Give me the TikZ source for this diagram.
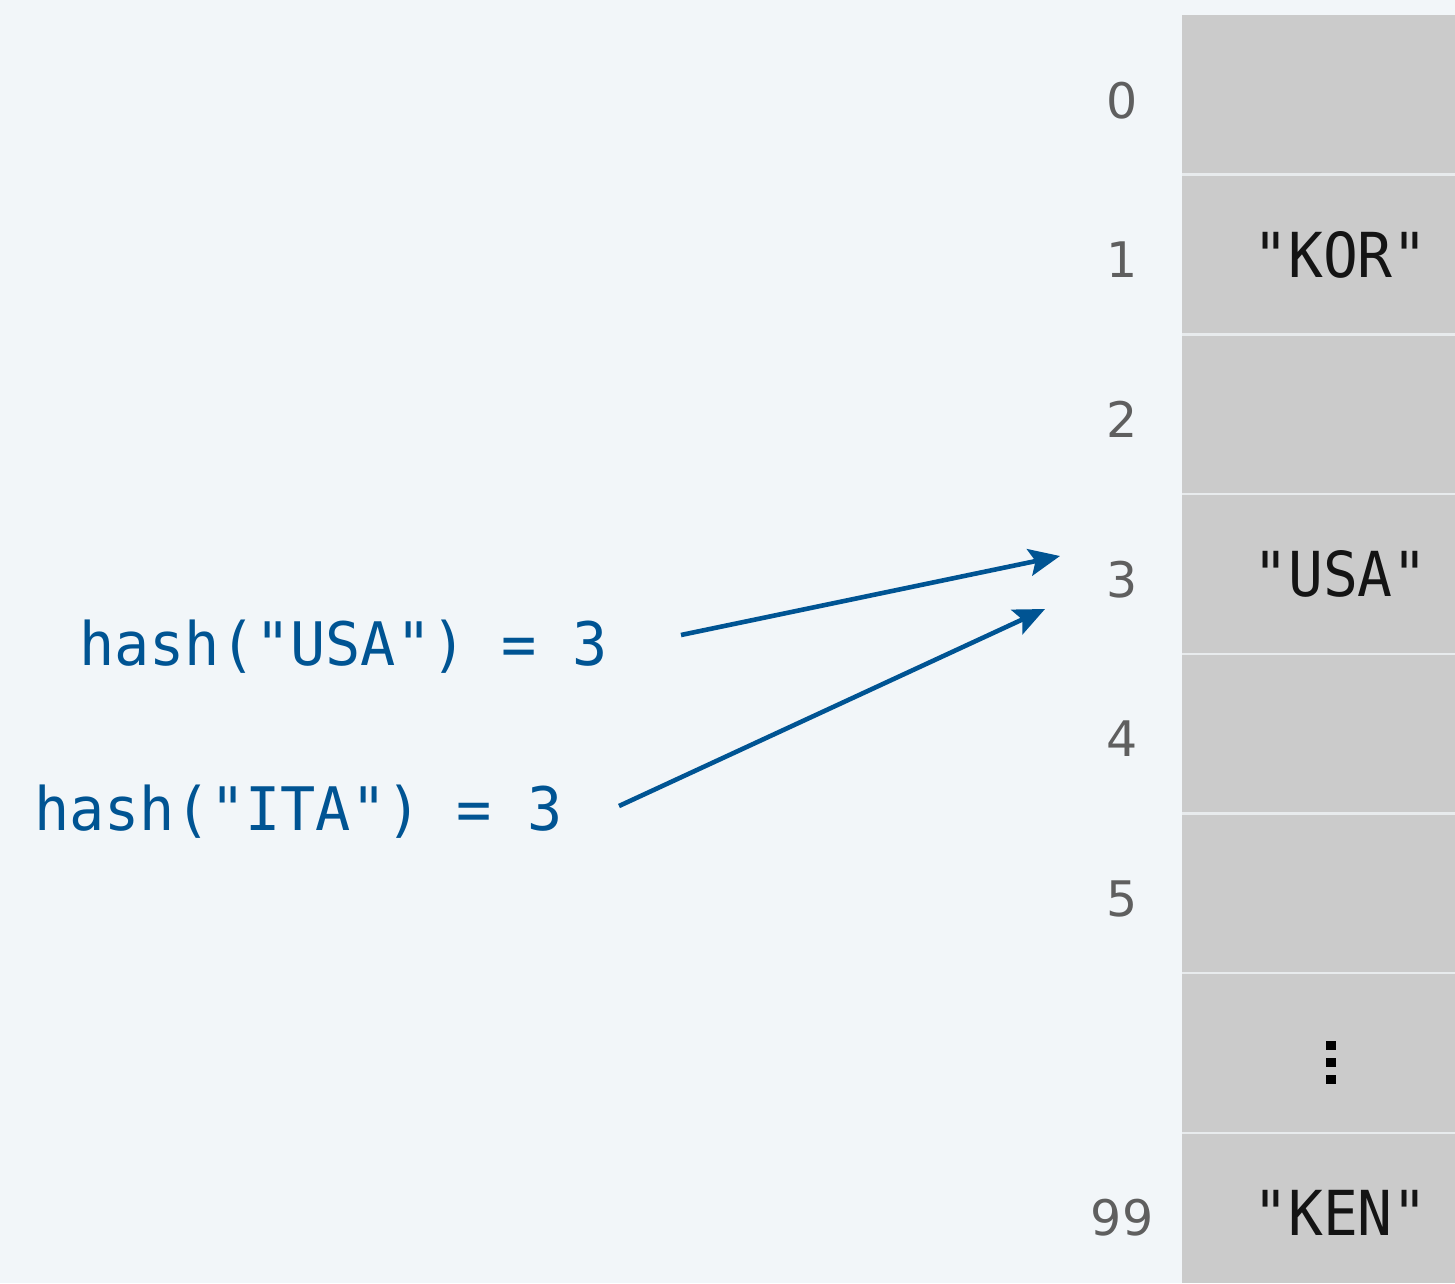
\documentclass[tikz,border=0pt]{standalone}
\usepackage{fontspec}
\setmainfont{DejaVu Sans}
\newfontfamily\cellfont[FakeStretch=0.935]{DejaVu Sans Mono}
\newfontfamily\codefont[FakeStretch=0.975]{DejaVu Sans Mono}
\usetikzlibrary{arrows.meta}
\definecolor{bgpage}{RGB}{242,246,249}
\definecolor{cellgray}{RGB}{203,203,203}
\definecolor{cellrule}{RGB}{232,235,237}
\definecolor{idxgray}{RGB}{95,95,95}
\definecolor{hashblue}{RGB}{0,84,147}
\tikzset{
  idx/.style={anchor=base, inner sep=0pt, text=idxgray, font=\fontsize{49}{49}\selectfont},
  cell/.style={anchor=base, inner sep=0pt, text=black!92, font=\cellfont\fontsize{62}{62}\selectfont},
  hashcall/.style={anchor=base west, inner sep=0pt, text=hashblue, font=\codefont\fontsize{60}{60}\selectfont},
  pointer/.style={draw=hashblue, line width=4.6pt, -{Stealth[length=31pt,width=27pt,inset=6pt]}},
}
\begin{document}
\begin{tikzpicture}[x=1pt, y=-1pt]
  % page
  \fill[bgpage] (0,0) rectangle (1455,1283);
  \useasboundingbox (0,0) rectangle (1455,1283);
  % table column
  \fill[cellgray] (1182,15) rectangle (1455,1283);
  \foreach \k in {1,...,7}
    \draw[cellrule, line width=2.5pt] (1182,{15+159.7*\k}) -- (1455,{15+159.7*\k});
  % slot indices
  \node[idx] (i0) at (1122,118) {0};
  \node[idx] (i1) at (1122,277.7) {1};
  \node[idx] (i2) at (1122,437.4) {2};
  \node[idx] (i3) at (1122,597.1) {3};
  \node[idx] (i4) at (1122,756.8) {4};
  \node[idx] (i5) at (1122,916.5) {5};
  \node[idx] (i99) at (1122,1235.9) {99};
  % slot contents
  \node[cell] (c1) at (1340.5,277.2) {"KOR"};
  \node[cell] (c3) at (1340.5,596.6) {"USA"};
  \node[cell] (c7) at (1340.5,1235.4) {"KEN"};
  \node[inner sep=0pt, minimum size=0pt] (c6) at (1331,1062) {};
  \foreach \dy in {-17,0,17}
    \fill[black] ([xshift=-5pt, yshift=-\dy pt-4.5pt]c6.center) rectangle ++(10pt,9pt);
  % hash calls
  \node[hashcall] (hu) at (79,665) {hash("USA") = 3};
  \node[hashcall] (hi) at (34,830) {hash("ITA") = 3};
  % arrow ends
  \coordinate (hu-out) at (681,635);
  \coordinate (hi-out) at (619,806);
  \coordinate (slot-a) at (1060,556);
  \coordinate (slot-b) at (1045,609);
  \draw[pointer] (hu-out) -- (slot-a);
  \draw[pointer] (hi-out) -- (slot-b);
\end{tikzpicture}
\end{document}
